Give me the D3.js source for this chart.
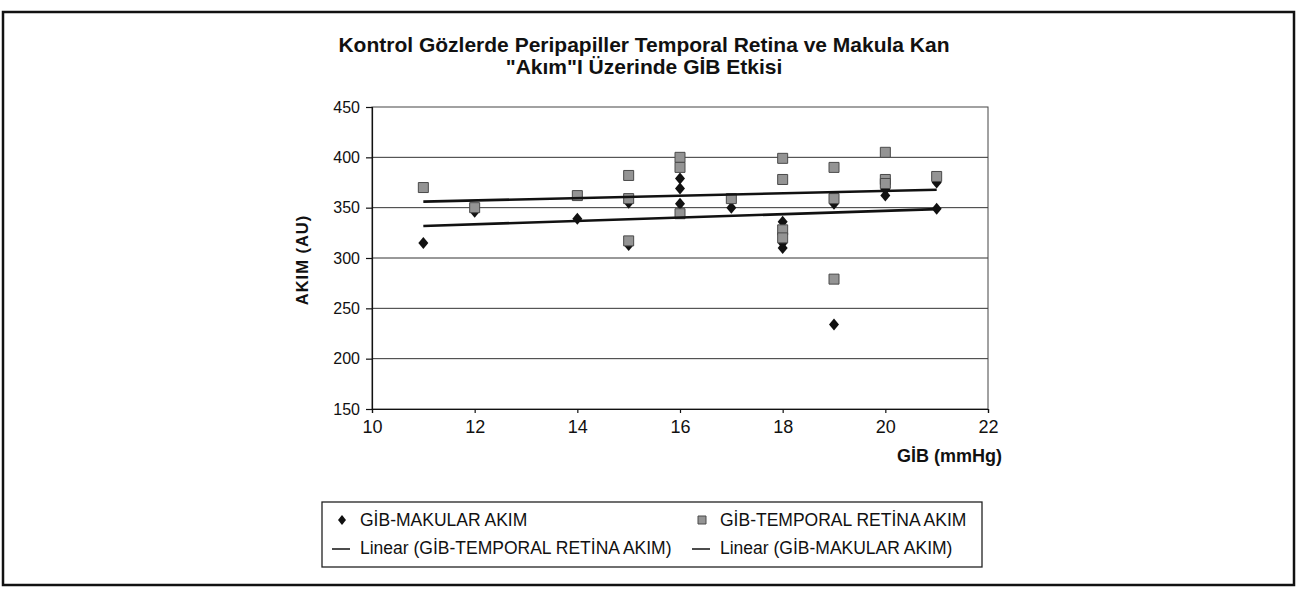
<!DOCTYPE html>
<html>
<head>
<meta charset="utf-8">
<script src="https://cdn.jsdelivr.net/npm/d3@7"></script>
<style>
  body { margin: 0; background: #fff; }
  text { font-family: "Liberation Sans", Arial, Helvetica, sans-serif; fill: #111; }
</style>
</head>
<body>
<div id="chart"></div>
<script>
// GİB (mmHg) values and flow readings
var makularX = [11, 12, 14, 15, 15, 16, 16, 16, 17, 18, 18, 18, 19, 19, 20, 20, 20, 21, 21];
var makularY = [315, 346, 339, 355, 313, 379, 369, 354, 350, 336, 315, 310, 354, 234, 377, 368, 362, 375, 349];

var temporalX = [11, 12, 14, 15, 15, 15, 16, 16, 16, 17, 18, 18, 18, 18, 19, 19, 19, 20, 20, 20, 21];
var temporalY = [370, 350, 362, 382, 359, 317, 400, 390, 344, 359, 399, 378, 328, 320, 390, 359, 279, 405, 378, 374, 381];

var xTicks = [10, 12, 14, 16, 18, 20, 22];
var yTicks = [150, 200, 250, 300, 350, 400, 450];

var titleLines = ['Kontrol Gözlerde Peripapiller Temporal Retina ve Makula Kan', '"Akım"I Üzerinde GİB Etkisi'];
var legendNames = ['GİB-MAKULAR AKIM', 'GİB-TEMPORAL RETİNA AKIM',
                   'Linear (GİB-TEMPORAL RETİNA AKIM)', 'Linear (GİB-MAKULAR AKIM)'];

var W = 1302, H = 600;
var plot = { left: 372, right: 988, top: 107, bottom: 409 };

var svg = d3.select('#chart').append('svg')
  .attr('width', W).attr('height', H);

// outer frame
svg.append('rect')
  .attr('x', 3).attr('y', 12).attr('width', 1291).attr('height', 573)
  .attr('fill', '#fff').attr('stroke', '#111').attr('stroke-width', 2.5);

// title
svg.append('text')
  .attr('x', 644).attr('y', 52)
  .attr('text-anchor', 'middle')
  .style('font-size', '21px').style('font-weight', 'bold')
  .selectAll('tspan')
  .data(titleLines)
  .enter().append('tspan')
  .attr('x', 644)
  .attr('dy', function(d, i){ return i ? 22 : 0; })
  .text(function(d){ return d; });

var x = d3.scaleLinear().domain([10, 22]).range([plot.left, plot.right]);
var y = d3.scaleLinear().domain([150, 450]).range([plot.bottom, plot.top]);

// grid lines
svg.append('g')
  .selectAll('line')
  .data(yTicks.slice(1, -1))
  .enter().append('line')
  .attr('x1', plot.left).attr('x2', plot.right)
  .attr('y1', function(d){ return y(d); })
  .attr('y2', function(d){ return y(d); })
  .attr('stroke', '#333').attr('stroke-width', 1);

// plot border
svg.append('rect')
  .attr('x', plot.left).attr('y', plot.top)
  .attr('width', plot.right - plot.left).attr('height', plot.bottom - plot.top)
  .attr('fill', 'none').attr('stroke', '#444').attr('stroke-width', 1);

// axes
var yAxis = svg.append('g')
  .attr('transform', 'translate(' + plot.left + ',0)')
  .call(d3.axisLeft(y).tickValues(yTicks).tickSize(6).tickPadding(6));
var xAxis = svg.append('g')
  .attr('transform', 'translate(0,' + plot.bottom + ')')
  .call(d3.axisBottom(x).tickValues(xTicks).tickSize(4).tickPadding(7));

yAxis.selectAll('text').style('font-size', '16px');
xAxis.selectAll('text').style('font-size', '18px');
svg.selectAll('.domain, .tick line').attr('stroke', '#111').attr('stroke-width', 1.2);

// axis titles
svg.append('text')
  .attr('transform', 'translate(308,260) rotate(-90)')
  .attr('text-anchor', 'middle')
  .style('font-size', '16.5px').style('font-weight', 'bold').style('letter-spacing', '1px')
  .text('AKIM (AU)');
svg.append('text')
  .attr('x', 1002).attr('y', 462)
  .attr('text-anchor', 'end')
  .style('font-size', '18px').style('font-weight', 'bold')
  .text('GİB (mmHg)');

// Excel-style diamond: a bit taller than wide
function diamondPath(hw, hh){
  var p = d3.path();
  p.moveTo(0, -hh); p.lineTo(hw, 0); p.lineTo(0, hh); p.lineTo(-hw, 0); p.closePath();
  return p.toString();
}
var square = d3.symbol().type(d3.symbolSquare).size(100);

// makular series (drawn first, squares sit on top)
svg.append('g')
  .selectAll('path')
  .data(makularX)
  .enter().append('path')
  .attr('d', diamondPath(5, 6))
  .attr('transform', function(d, i){ return 'translate(' + x(d) + ',' + y(makularY[i]) + ')'; })
  .attr('fill', '#111');

svg.append('g')
  .selectAll('path')
  .data(temporalX)
  .enter().append('path')
  .attr('d', square)
  .attr('transform', function(d, i){ return 'translate(' + x(d) + ',' + y(temporalY[i]) + ')'; })
  .attr('fill', '#949494').attr('stroke', '#4a4a4a').attr('stroke-width', 1);

// least squares trend lines
function linfit(xs, ys){
  var mx = d3.mean(xs), my = d3.mean(ys);
  var sxy = d3.sum(xs, function(v, i){ return (v - mx) * (ys[i] - my); });
  var sxx = d3.sum(xs, function(v){ return (v - mx) * (v - mx); });
  var b = sxy / sxx;
  var ext = d3.extent(xs);
  return ext.map(function(v){ return [v, my + b * (v - mx)]; });
}

var line = d3.line()
  .x(function(d){ return x(d[0]); })
  .y(function(d){ return y(d[1]); });

[linfit(temporalX, temporalY), linfit(makularX, makularY)].forEach(function(pts){
  svg.append('path')
    .attr('d', line(pts))
    .attr('fill', 'none').attr('stroke', '#111').attr('stroke-width', 2.6);
});

// legend
var lg = svg.append('g');
lg.append('rect')
  .attr('x', 322).attr('y', 502).attr('width', 660).attr('height', 65)
  .attr('fill', '#fff').attr('stroke', '#222').attr('stroke-width', 1.3);

var legendPos = [[342, 360, 526], [702, 720, 526], [342, 360, 554], [702, 720, 554]];
legendNames.forEach(function(name, i){
  var p = legendPos[i];
  if (i === 0) {
    lg.append('path').attr('d', diamondPath(4, 5))
      .attr('transform', 'translate(' + p[0] + ',' + (p[2] - 6) + ')')
      .attr('fill', '#111');
  } else if (i === 1) {
    lg.append('path').attr('d', d3.symbol().type(d3.symbolSquare).size(64))
      .attr('transform', 'translate(' + p[0] + ',' + (p[2] - 6) + ')')
      .attr('fill', '#949494').attr('stroke', '#4a4a4a');
  } else {
    lg.append('line')
      .attr('x1', p[0] - 10).attr('x2', p[0] + 8)
      .attr('y1', p[2] - 5).attr('y2', p[2] - 5)
      .attr('stroke', '#111').attr('stroke-width', 1.5);
  }
  lg.append('text')
    .attr('x', p[1]).attr('y', p[2])
    .style('font-size', '17.5px')
    .text(name);
});
</script>
</body>
</html>
